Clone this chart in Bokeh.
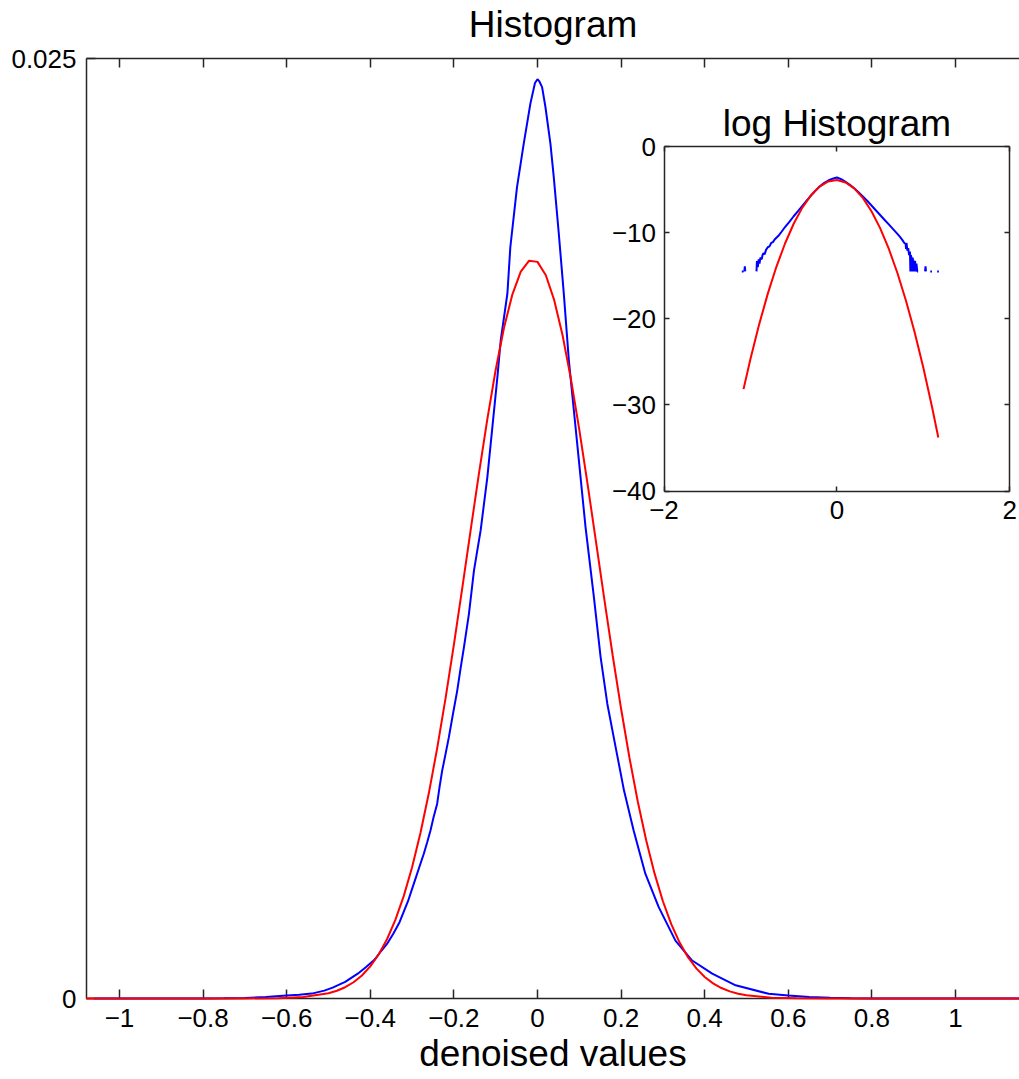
import math
from bokeh.plotting import figure
from bokeh.models import Range1d, LinearAxis, FixedTicker, Label
from bokeh.embed import file_html
from bokeh.resources import INLINE

FONT = "Liberation Sans"
NAN = float("nan")

# ---------------- main histogram ----------------
x_ticks = [-1, -0.8, -0.6, -0.4, -0.2, 0, 0.2, 0.4, 0.6, 0.8, 1]
x_tick_labels = ["−1", "−0.8", "−0.6", "−0.4", "−0.2", "0", "0.2", "0.4", "0.6", "0.8", "1"]
y_ticks = [0, 0.025]
y_tick_labels = ["0", "0.025"]
x_limits = (-1.0789, 1.1531)
y_limits = (0, 0.025)

# empirical histogram (blue)
hist_x = [-1.06, -0.80, -0.75, -0.70, -0.65, -0.60, -0.57, -0.54, -0.51, -0.49,
          -0.46, -0.43, -0.41, -0.39, -0.375, -0.36, -0.345, -0.33, -0.31, -0.296,
          -0.284, -0.272, -0.264, -0.256, -0.248, -0.240, -0.234, -0.228, -0.220, -0.212,
          -0.202, -0.192, -0.184, -0.176, -0.164, -0.152, -0.136, -0.120, -0.108, -0.096,
          -0.088, -0.072, -0.065, -0.049, -0.033, -0.017, -0.006, 0.000, 0.004, 0.011,
          0.019, 0.031, 0.039, 0.051, 0.063, 0.075, 0.087, 0.099, 0.115, 0.135,
          0.151, 0.167, 0.187, 0.207, 0.230, 0.258, 0.290, 0.330, 0.370, 0.418,
          0.474, 0.553, 0.60, 0.65, 0.70, 0.75, 0.80, 0.85, 1.16]
hist_y = [0.0, 0.0, 0.000005, 0.000015, 0.00004, 0.00008, 0.00010, 0.00013, 0.00021, 0.00029,
          0.00044, 0.00066, 0.00084, 0.00103, 0.00125, 0.00145, 0.00172, 0.00203, 0.00258, 0.00305,
          0.00345, 0.00385, 0.00415, 0.00447, 0.00485, 0.00518, 0.00565, 0.00606, 0.00650, 0.00695,
          0.00758, 0.00819, 0.00878, 0.00934, 0.01023, 0.01138, 0.01245, 0.01386, 0.01519, 0.01652,
          0.01750, 0.01875, 0.01998, 0.02158, 0.02273, 0.02380, 0.02435, 0.02445, 0.02440, 0.02424,
          0.02371, 0.02273, 0.02184, 0.02034, 0.01874, 0.01697, 0.01564, 0.01431, 0.01253, 0.01067,
          0.00908, 0.00784, 0.00668, 0.00553, 0.00447, 0.00332, 0.00243, 0.00154, 0.00101, 0.00066,
          0.00035, 0.000125, 0.00008, 0.00004, 0.00002, 0.000008, 0.000002, 0.0, 0.0]

# Gaussian fit (red)
fit_x = [-1.08, -0.70, -0.62, -0.56, -0.50, -0.48, -0.46, -0.44, -0.42, -0.40,
         -0.38, -0.36, -0.34, -0.32, -0.30, -0.28, -0.26, -0.24, -0.22, -0.20,
         -0.18, -0.16, -0.14, -0.12, -0.10, -0.08, -0.06, -0.04, -0.02, 0.00,
         0.02, 0.04, 0.06, 0.08, 0.10, 0.12, 0.14, 0.16, 0.18, 0.20,
         0.22, 0.24, 0.26, 0.28, 0.30, 0.32, 0.34, 0.36, 0.38, 0.40,
         0.42, 0.44, 0.46, 0.48, 0.50, 0.56, 0.62, 0.70, 1.16]
fit_y = [0.0, 0.000001, 0.0000089, 0.0000377, 0.000138, 0.000205, 0.000300, 0.000432, 0.000612, 0.000854,
         0.001170, 0.001576, 0.002089, 0.002723, 0.003490, 0.004401, 0.005457, 0.006654, 0.007980, 0.009410,
         0.010914, 0.012450, 0.013967, 0.015411, 0.016722, 0.017846, 0.018729, 0.019332, 0.019624, 0.019591,
         0.019235, 0.018573, 0.017638, 0.016473, 0.015131, 0.013669, 0.012144, 0.010609, 0.009116, 0.007705,
         0.006404, 0.005233, 0.004207, 0.003327, 0.002586, 0.001977, 0.001487, 0.001100, 0.000800, 0.000572,
         0.000403, 0.000279, 0.000190, 0.000127, 0.000084, 0.0000216, 0.0000048, 0.0, 0.0]

# ---------------- inset: log histogram ----------------
inset_x_ticks = [-2, 0, 2]
inset_x_tick_labels = ["−2", "0", "2"]
inset_y_ticks = [-40, -30, -20, -10, 0]
inset_y_tick_labels = ["−40", "−30", "−20", "−10", "0"]
inset_x_limits = (-2, 2)
inset_y_limits = (-40, 0)

log_hist_x = [-1.10, -1.08, NAN, -1.07, -1.065, -1.06, NAN,
              -0.93, -0.925, -0.915, -0.905, -0.895, -0.885, -0.87, -0.86, -0.85, -0.835,
              -0.82, -0.80, -0.78, -0.76, -0.74, -0.72, -0.70, -0.67, -0.64, -0.60,
              -0.55, -0.50, -0.45, -0.40, -0.35, -0.30, -0.25, -0.20, -0.15, -0.10,
              -0.05, 0.0, 0.05, 0.10, 0.15, 0.20, 0.25, 0.30, 0.35, 0.40,
              0.45, 0.50, 0.55, 0.60, 0.65, 0.70, 0.73, 0.76, 0.78, 0.795,
              0.80, 0.805, 0.815, 0.825, 0.835, 0.845, 0.85, 0.855, 0.865, 0.87,
              0.875, 0.885, 0.89, 0.895, 0.905, 0.91, 0.92, 0.93, 0.94, NAN,
              1.02, 1.025, 1.03, NAN, 1.08, 1.10, NAN, 1.16, 1.18]
log_hist_y = [-14.5, -14.5, NAN, -14.5, -13.9, -14.5, NAN,
              -14.5, -13.3, -14.0, -13.1, -13.6, -12.9, -13.1, -12.6, -12.4, -12.5,
              -12.0, -11.7, -11.6, -11.2, -11.1, -10.8, -10.6, -10.3, -9.9, -9.35,
              -8.75, -8.1, -7.5, -6.9, -6.3, -5.7, -5.15, -4.65, -4.25, -3.95,
              -3.75, -3.6, -3.8, -4.1, -4.45, -4.85, -5.3, -5.8, -6.3, -6.85,
              -7.4, -7.95, -8.5, -9.05, -9.6, -10.15, -10.5, -10.9, -11.2, -11.3,
              -11.9, -11.2, -12.1, -11.8, -12.6, -12.2, -14.5, -12.6, -13.0, -14.5,
              -12.9, -13.4, -14.5, -13.5, -13.3, -14.5, -13.6, -14.5, -14.5, NAN,
              -14.5, -13.9, -14.5, NAN, -14.5, -14.5, NAN, -14.5, -14.5]

log_fit_x = [-1.08, -1.0, -0.9, -0.8, -0.7, -0.6, -0.5, -0.4, -0.3, -0.2,
             -0.1, 0.0, 0.1, 0.2, 0.3, 0.4, 0.5, 0.6, 0.7, 0.8,
             0.9, 1.0, 1.1, 1.173]
log_fit_y = [-28.17, -24.67, -20.68, -17.11, -13.97, -11.26, -8.97, -7.10, -5.66, -4.65,
             -4.06, -3.90, -4.17, -4.86, -5.97, -7.51, -9.48, -11.87, -14.69, -17.93,
             -21.60, -25.69, -30.21, -33.78]

# ---------------- layout (pixels) ----------------
W, H = 1019, 1079
FRAME = dict(left=86, top=58, right=1019, bottom=998)
INSET = dict(left=663.5, top=146, right=1009.3, bottom=490.5)
INSET_TITLE_BASELINE = 123                    # inset title baseline, screen px

AX_COLOR = "#262626"
BLUE = "#0000ff"
RED = "#ff0000"

p = figure(width=W, height=H,
           x_range=Range1d(*x_limits), y_range=Range1d(*y_limits),
           output_backend="svg", toolbar_location=None,
           min_border_left=FRAME["left"], min_border_right=W - FRAME["right"],
           min_border_top=FRAME["top"], min_border_bottom=H - FRAME["bottom"])
p.grid.visible = False
p.outline_line_color = None
p.background_fill_color = "white"
p.border_fill_color = "white"


def style_axis(ax, tick_len, standoff=10):
    ax.axis_line_color = AX_COLOR
    ax.axis_line_width = 1.5
    ax.major_tick_line_color = AX_COLOR
    ax.major_tick_line_width = 1.5
    ax.major_tick_in = tick_len
    ax.major_tick_out = 0
    ax.minor_tick_in = 0
    ax.minor_tick_out = 0
    ax.major_label_text_font = FONT
    ax.major_label_text_font_size = "26px"
    ax.major_label_text_color = "black"
    ax.major_label_standoff = standoff


def style_label(ax, text, standoff):
    ax.axis_label = text
    ax.axis_label_text_font = FONT
    ax.axis_label_text_font_size = "37px"
    ax.axis_label_text_font_style = "normal"
    ax.axis_label_text_color = "black"
    ax.axis_label_standoff = standoff


xa = p.xaxis[0]
xa.ticker = FixedTicker(ticks=x_ticks)
xa.major_label_overrides = dict(zip(x_ticks, x_tick_labels))
style_axis(xa, 9)
style_label(xa, "denoised values", 3)

ya = p.yaxis[0]
ya.ticker = FixedTicker(ticks=y_ticks)
ya.major_label_overrides = dict(zip(y_ticks, y_tick_labels))
style_axis(ya, 9)

# top frame edge with inward ticks; its axis label serves as the main title
top_axis = LinearAxis(ticker=FixedTicker(ticks=x_ticks))
style_axis(top_axis, 9, standoff=0)
top_axis.major_label_text_font_size = "0px"
top_axis.major_label_text_color = None
style_label(top_axis, "Histogram", 14)
p.add_layout(top_axis, "above")

# main curves
p.line(hist_x, hist_y, line_color=BLUE, line_width=2, level="overlay")
p.line(fit_x, fit_y, line_color=RED, line_width=2, level="overlay")

# ---------------- inset via extra ranges ----------------
ppx = (INSET["right"] - INSET["left"]) / (inset_x_limits[1] - inset_x_limits[0])
ppy = (INSET["bottom"] - INSET["top"]) / (inset_y_limits[1] - inset_y_limits[0])
ix0 = inset_x_limits[0] - (INSET["left"] - FRAME["left"]) / ppx
ix1 = inset_x_limits[1] + (FRAME["right"] - INSET["right"]) / ppx
iy1 = inset_y_limits[1] + (INSET["top"] - FRAME["top"]) / ppy
iy0 = inset_y_limits[0] - (FRAME["bottom"] - INSET["bottom"]) / ppy
p.extra_x_ranges = {"ix": Range1d(ix0, ix1)}
p.extra_y_ranges = {"iy": Range1d(iy0, iy1)}

il = LinearAxis(x_range_name="ix", y_range_name="iy", fixed_location=inset_x_limits[0],
                bounds=inset_y_limits, ticker=FixedTicker(ticks=inset_y_ticks))
il.major_label_overrides = dict(zip(inset_y_ticks, inset_y_tick_labels))
style_axis(il, 5, standoff=8)
p.add_layout(il, "left")

ir = LinearAxis(x_range_name="ix", y_range_name="iy", fixed_location=inset_x_limits[1],
                bounds=inset_y_limits, ticker=FixedTicker(ticks=inset_y_ticks))
style_axis(ir, 5)
ir.major_label_text_color = None
p.add_layout(ir, "right")

ib = LinearAxis(x_range_name="ix", y_range_name="iy", fixed_location=inset_y_limits[0],
                bounds=inset_x_limits, ticker=FixedTicker(ticks=inset_x_ticks))
ib.major_label_overrides = dict(zip(inset_x_ticks, inset_x_tick_labels))
style_axis(ib, 5, standoff=10)
p.add_layout(ib, "below")

it = LinearAxis(x_range_name="ix", y_range_name="iy", fixed_location=inset_y_limits[1],
                bounds=inset_x_limits, ticker=FixedTicker(ticks=inset_x_ticks))
style_axis(it, 5)
it.major_label_text_color = None
p.add_layout(it, "above")

p.line(log_hist_x, log_hist_y, x_range_name="ix", y_range_name="iy",
       line_color=BLUE, line_width=2)
p.line(log_fit_x, log_fit_y, x_range_name="ix", y_range_name="iy",
       line_color=RED, line_width=2)

p.add_layout(Label(x=0, y=inset_y_limits[1] + (INSET["top"] - INSET_TITLE_BASELINE) / ppy,
                   x_range_name="ix", y_range_name="iy",
                   text="log Histogram", text_align="center", text_baseline="alphabetic",
                   text_font=FONT, text_font_size="37px", text_color="black"))

open("out.html", "w").write(file_html(p, INLINE))
